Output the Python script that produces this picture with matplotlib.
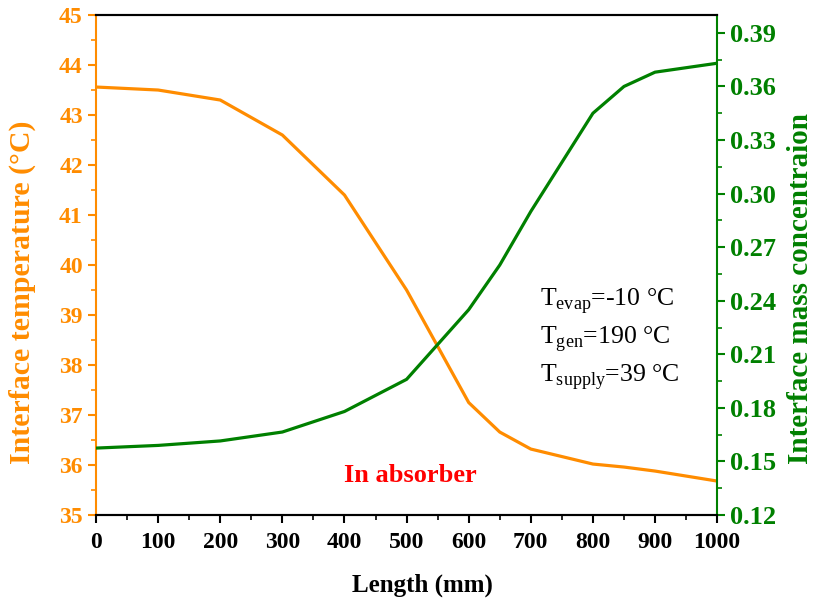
import matplotlib
matplotlib.use("Agg")
import matplotlib.pyplot as plt
from matplotlib.ticker import MultipleLocator

plt.rcParams["font.family"] = ["Liberation Serif", "DejaVu Serif"]
plt.rcParams["mathtext.fontset"] = "custom"
plt.rcParams["mathtext.rm"] = "Liberation Serif"

length = [0, 100, 200, 300, 400, 500, 600, 650, 700, 800, 850, 900, 1000]
temperature = [43.56, 43.5, 43.3, 42.6, 41.4, 39.5, 37.25, 36.66, 36.32, 36.02, 35.96, 35.88, 35.68]
concentration = [0.1575, 0.159, 0.1615, 0.1665, 0.178, 0.196, 0.235, 0.26, 0.29, 0.345, 0.36, 0.368, 0.373]
conc_ticks = [0.12, 0.15, 0.18, 0.21, 0.24, 0.27, 0.30, 0.33, 0.36, 0.39]
conditions = ["T$_{\\mathrm{evap}}$=-10 \u00b0C", "T$_{\\mathrm{gen}}$=190 \u00b0C", "T$_{\\mathrm{supply}}$=39 \u00b0C"]

orange = "#FF8C00"
green = "#008000"

fig = plt.figure(figsize=(8.14, 6.01), dpi=100)
ax = fig.add_axes([0.118, 0.143, 0.763, 0.832])
ax2 = ax.twinx()

ax.plot(length, temperature, color=orange, lw=2.3)
ax2.plot(length, concentration, color=green, lw=2.3)

ax.set_xlim(0, 1000)
ax.set_ylim(35, 45)
ax2.set_ylim(0.12, 0.40)

ax.xaxis.set_major_locator(MultipleLocator(100))
ax.xaxis.set_minor_locator(MultipleLocator(50))
ax.yaxis.set_major_locator(MultipleLocator(1))
ax.yaxis.set_minor_locator(MultipleLocator(0.5))
ax2.set_yticks(conc_ticks)
ax2.yaxis.set_minor_locator(MultipleLocator(0.015))
ax2.set_yticklabels(["%.2f" % v for v in conc_ticks])

for a in (ax, ax2):
    a.tick_params(which="major", direction="out", length=6, width=1.5)
    a.tick_params(which="minor", direction="out", length=3.5, width=1.2)

ax.tick_params(axis="x", labelsize=17, colors="black", pad=6)
ax.tick_params(axis="y", which="both", labelsize=17, colors=orange)
ax2.tick_params(axis="y", which="both", colors=green, labelsize=19)
for lbl in ax.get_xticklabels() + ax.get_yticklabels() + ax2.get_yticklabels():
    lbl.set_fontweight("bold")

ax.spines["left"].set_color(orange)
ax.spines["left"].set_linewidth(1.5)
ax2.spines["left"].set_visible(False)
ax2.spines["right"].set_color(green)
ax2.spines["right"].set_linewidth(1.5)
ax.spines["right"].set_visible(False)
for s in ("top", "bottom"):
    ax.spines[s].set_linewidth(1.5)
    ax2.spines[s].set_linewidth(1.5)

ax.set_xlabel("Length (mm)", fontsize=18, fontweight="bold", va="center")
ax.xaxis.set_label_coords(0.525, -0.14)
ax.set_ylabel("Interface temperature (\u00b0C)", fontsize=21.5, fontweight="bold", color=orange, va="center")
ax.yaxis.set_label_coords(-0.119, 0.445)
ax2.set_ylabel("Interface mass concentraion", fontsize=21, fontweight="bold", color=green, va="center")
ax2.yaxis.set_label_coords(1.134, 0.454)

ax.text(506, 35.8, "In absorber", color="red", fontsize=19, fontweight="bold", ha="center", va="center")
for i, txt in enumerate(conditions):
    ax.text(714, 39.28 - 0.76 * i, txt, fontsize=18.5, va="center")

fig.savefig("out.png", dpi=100)
